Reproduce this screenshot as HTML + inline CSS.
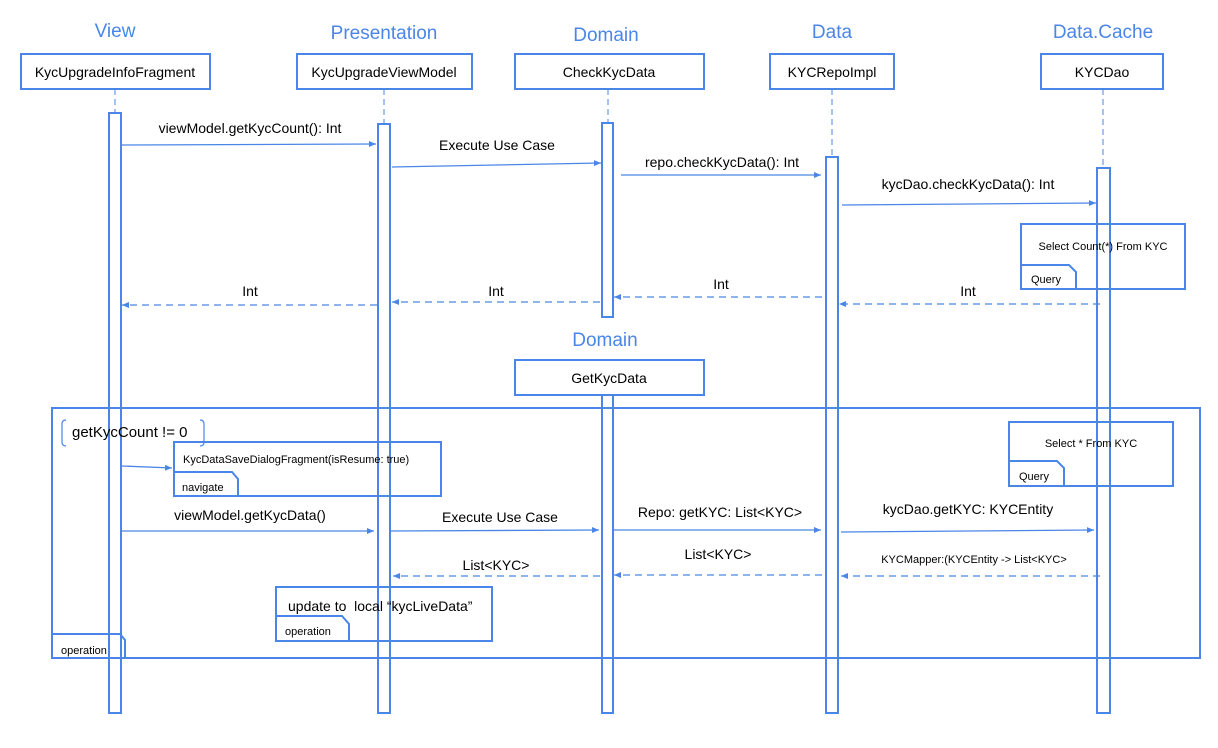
<!DOCTYPE html>
<html><head><meta charset="utf-8"><style>
html,body{margin:0;padding:0;background:#fff;}
svg{display:block;font-family:"Liberation Sans",Arial,sans-serif;}
</style></head><body>
<svg width="1218" height="748" viewBox="0 0 1218 748" xmlns="http://www.w3.org/2000/svg">
<defs>
<marker id="a" markerWidth="8" markerHeight="8" refX="7" refY="3" orient="auto" markerUnits="userSpaceOnUse"><path d="M0,0 L7,3 L0,6 z" fill="#4a86e8"/></marker>
</defs>
<g fill="#4a86e8" font-size="19" text-anchor="middle">
<text x="115" y="37">View</text>
<text x="384" y="39">Presentation</text>
<text x="606" y="41">Domain</text>
<text x="832" y="38">Data</text>
<text x="1103" y="38">Data.Cache</text>
<text x="605" y="346">Domain</text>
</g>
<g fill="#fff" stroke="#4a86e8" stroke-width="2">
<rect x="21" y="54" width="189" height="35"/>
<rect x="297" y="54" width="175" height="35"/>
<rect x="515" y="54" width="189" height="35"/>
<rect x="770" y="54" width="124" height="35"/>
<rect x="1041" y="54" width="122" height="35"/>
<rect x="515" y="360" width="189" height="35"/>
</g>
<g font-size="14" text-anchor="middle" fill="#000">
<text x="115" y="77">KycUpgradeInfoFragment</text>
<text x="384" y="77">KycUpgradeViewModel</text>
<text x="609" y="77">CheckKycData</text>
<text x="832" y="77">KYCRepoImpl</text>
<text x="1102" y="77">KYCDao</text>
<text x="609" y="383">GetKycData</text>
</g>
<g stroke="#4a86e8" stroke-width="1" stroke-dasharray="6,4">
<line x1="115" y1="89" x2="115" y2="113"/>
<line x1="384" y1="89" x2="384" y2="124"/>
<line x1="608" y1="89" x2="608" y2="123"/>
<line x1="832" y1="89" x2="832" y2="157"/>
<line x1="1103" y1="89" x2="1103" y2="168"/>
</g>
<g fill="none" stroke="#4a86e8" stroke-width="2">
<rect x="109" y="113" width="12" height="600"/>
<rect x="378" y="124" width="12" height="589"/>
<rect x="602" y="123" width="11" height="194"/>
<rect x="602" y="395" width="11" height="318"/>
<rect x="826" y="157" width="12" height="556"/>
<rect x="1097" y="168" width="13" height="545"/>
<rect x="52" y="408" width="1148" height="250"/>
<path d="M52,634 H120 L125,640 V658"/>
<path d="M66,420 q-4,0 -4,4 v18 q0,4 4,4 M200,420 q4,0 4,4 v18 q0,4 -4,4" stroke-width="1.2"/>
<rect x="1021" y="224" width="164" height="65"/>
<path d="M1021,265 H1069 L1076,272 V289"/>
<rect x="1009" y="422" width="164" height="64"/>
<path d="M1009,461 H1057 L1064,468 V486"/>
<rect x="174" y="442" width="267" height="54"/>
<path d="M174,472 H232 L238,479 V496"/>
<rect x="276" y="587" width="216" height="54"/>
<path d="M276,616 H342 L349,624 V641"/>
</g>
<g stroke="#4a86e8" stroke-width="1.3" marker-end="url(#a)">
<line x1="122" y1="145" x2="376" y2="144"/>
<line x1="392" y1="167" x2="601" y2="163"/>
<line x1="621" y1="175" x2="821" y2="175"/>
<line x1="842" y1="205" x2="1096" y2="203"/>
<line x1="122" y1="466" x2="172" y2="468"/>
<line x1="122" y1="531" x2="374" y2="531"/>
<line x1="391" y1="531" x2="599" y2="530"/>
<line x1="614" y1="530" x2="821" y2="530"/>
<line x1="841" y1="532" x2="1094" y2="530"/>
</g>
<g stroke="#4a86e8" stroke-width="1.3" stroke-dasharray="7,5" marker-end="url(#a)">
<line x1="1100" y1="304" x2="839" y2="304"/>
<line x1="822" y1="297" x2="614" y2="297"/>
<line x1="600" y1="302" x2="392" y2="302"/>
<line x1="377" y1="305" x2="122" y2="305"/>
<line x1="1100" y1="576" x2="841" y2="576"/>
<line x1="822" y1="575" x2="614" y2="575"/>
<line x1="600" y1="576" x2="393" y2="576"/>
</g>
<g font-size="14" text-anchor="middle" fill="#000">
<text x="250" y="133">viewModel.getKycCount(): Int</text>
<text x="497" y="150">Execute Use Case</text>
<text x="722" y="167">repo.checkKycData(): Int</text>
<text x="968" y="189">kycDao.checkKycData(): Int</text>
<text x="968" y="296">Int</text>
<text x="721" y="289">Int</text>
<text x="496" y="296">Int</text>
<text x="250" y="296">Int</text>
<text x="250" y="520">viewModel.getKycData()</text>
<text x="500" y="522">Execute Use Case</text>
<text x="720" y="517">Repo: getKYC: List&lt;KYC&gt;</text>
<text x="968" y="514">kycDao.getKYC: KYCEntity</text>
<text x="718" y="559">List&lt;KYC&gt;</text>
<text x="496" y="570">List&lt;KYC&gt;</text>
</g>
<text x="72" y="437" font-size="15" fill="#000">getKycCount != 0</text>
<text x="288" y="611" font-size="14" fill="#000">update to &#160;local “kycLiveData”</text>
<g font-size="11" fill="#000">
<text x="1103" y="250" text-anchor="middle">Select Count(*) From KYC</text>
<text x="1031" y="283">Query</text>
<text x="1091" y="447" text-anchor="middle">Select * From KYC</text>
<text x="1019" y="480">Query</text>
<text x="183" y="463">KycDataSaveDialogFragment(isResume: true)</text>
<text x="182" y="491">navigate</text>
<text x="285" y="635">operation</text>
<text x="61" y="654">operation</text>
<text x="974" y="563" text-anchor="middle">KYCMapper:(KYCEntity -&gt; List&lt;KYC&gt;</text>
</g>
</svg>
</body></html>
